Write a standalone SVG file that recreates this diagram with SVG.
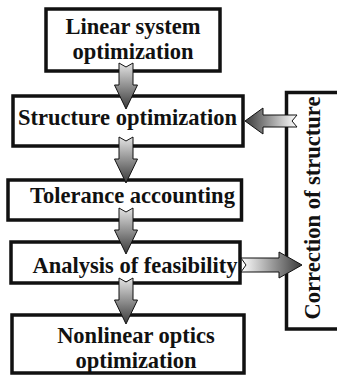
<svg xmlns="http://www.w3.org/2000/svg" width="337" height="376" viewBox="0 0 337 376">
  <style>
    .box { fill: #ffffff; stroke: #111111; stroke-width: 3.5; }
    .label { font-family: "Liberation Serif", "Times New Roman", Times, "Nimbus Roman", "Nimbus Roman No9 L", FreeSerif, "Noto Serif", "DejaVu Serif", serif; font-weight: 700; font-size: 22.5px; fill: #111111; text-anchor: middle; }
    .arrow { stroke: #111111; stroke-width: 1; stroke-linejoin: miter; }
  </style>
  <defs>
    <linearGradient id="gradDown" x1="0" y1="0" x2="0" y2="1">
      <stop offset="0" stop-color="#e4e4e4"/>
      <stop offset="1" stop-color="#3a3a3a"/>
    </linearGradient>
    <linearGradient id="gradLeft" x1="1" y1="0" x2="0" y2="0">
      <stop offset="0" stop-color="#ffffff"/>
      <stop offset="1" stop-color="#3a3a3a"/>
    </linearGradient>
    <linearGradient id="gradRight" x1="0" y1="0" x2="1" y2="0">
      <stop offset="0" stop-color="#ffffff"/>
      <stop offset="1" stop-color="#3a3a3a"/>
    </linearGradient>
    <!-- notched block arrow pointing down, origin at top centre of the tail -->
    <path id="downArrow" class="arrow" fill="url(#gradDown)"
          d="M -7,0 L 0,4 L 7,0 L 7,22 L 11.5,22 L 0,46 L -11.5,22 L -7,22 Z"/>
  </defs>

  <g id="node-linear">
    <rect class="box" x="46" y="9" width="174" height="62"/>
    <text class="label" x="133" y="34">Linear system</text>
    <text class="label" x="133" y="59">optimization</text>
  </g>

  <g id="node-structure">
    <rect class="box" x="13" y="96" width="230" height="50"/>
    <text class="label" x="127.5" y="125">Structure optimization</text>
  </g>

  <g id="node-tolerance">
    <rect class="box" x="8" y="180" width="233.5" height="40"/>
    <text class="label" x="132.5" y="203">Tolerance accounting</text>
  </g>

  <g id="node-feasibility">
    <rect class="box" x="11" y="242" width="229" height="41"/>
    <text class="label" x="135" y="273">Analysis of feasibility</text>
  </g>

  <g id="node-nonlinear">
    <rect class="box" x="12" y="315" width="232" height="58"/>
    <text class="label" x="136" y="343">Nonlinear optics</text>
    <text class="label" x="136" y="368">optimization</text>
  </g>

  <g id="node-correction">
    <rect class="box" x="286.5" y="92.5" width="70" height="236.5"/>
    <text class="label" transform="translate(320,208) rotate(-90)" x="0" y="0">Correction of structure</text>
  </g>

  <g id="connectors">
    <use href="#downArrow" transform="translate(126,63)"/>
    <use href="#downArrow" transform="translate(126,137)"/>
    <use href="#downArrow" transform="translate(126,208)"/>
    <use href="#downArrow" transform="translate(126,278)"/>
    <!-- feedback into structure optimization -->
    <path class="arrow" fill="url(#gradLeft)"
          d="M245,121 L263,108 L263,115 L297,115 L292,121 L297,127 L263,127 L263,134 Z"/>
    <!-- feasibility result out to correction -->
    <path class="arrow" fill="url(#gradRight)"
          d="M241,258 L279,258 L279,252 L302,265 L279,278 L279,272 L241,272 L246,265 Z"/>
  </g>
</svg>
